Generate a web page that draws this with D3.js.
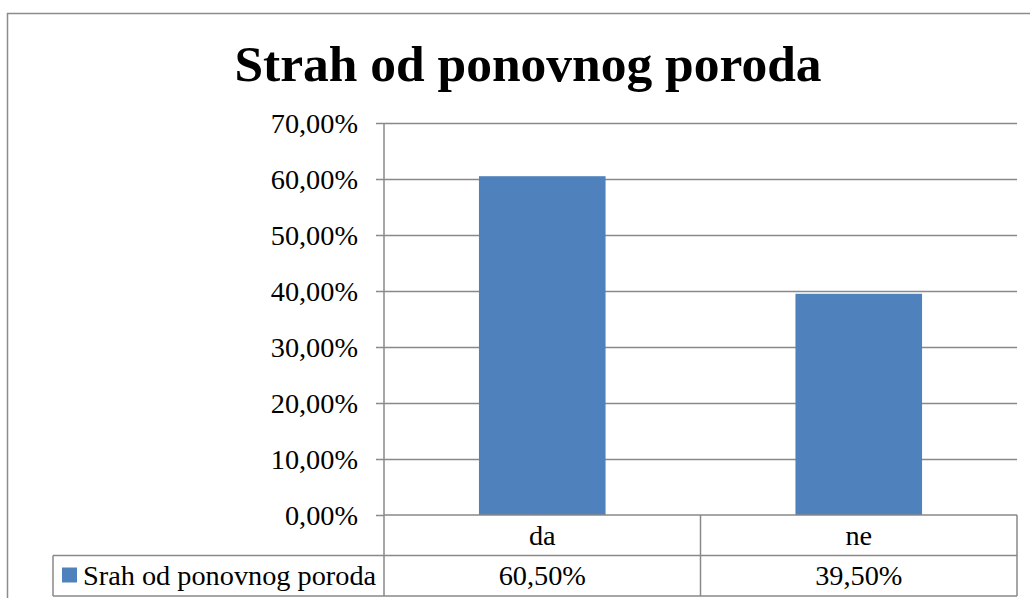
<!DOCTYPE html>
<html>
<head>
<meta charset="utf-8">
<script src="https://cdn.jsdelivr.net/npm/d3@7"></script>
<style>
  body { margin: 0; background: #fff; }
  text { font-family: "Liberation Serif", "DejaVu Serif", serif; fill: #000; }
</style>
</head>
<body>
<div id="chart"></div>
<script>
var title = "Strah od ponovnog poroda";
var seriesName = "Srah od ponovnog poroda";
var categories = ["da", "ne"];
var values = [0.605, 0.395];
var yTicks = [0, 0.1, 0.2, 0.3, 0.4, 0.5, 0.6, 0.7];

var W = 1030, H = 598;
var margin = {top: 123, left: 384, right: 13};
var plotH = 392;
var rowH = 40.5;
var legendLeft = 53;
var gridColor = "#898989";
var labelSize = "28.3px";

var fmt = function(v) { return d3.format(".2f")(v * 100).replace(".", ",") + "%"; };

var svg = d3.select("#chart").append("svg")
  .attr("width", W)
  .attr("height", H);

// outer chart border
svg.append("rect")
  .attr("x", 7.5).attr("y", 13.5)
  .attr("width", W + 20).attr("height", H + 20)
  .attr("fill", "none")
  .attr("stroke", "#8c8c8c")
  .attr("stroke-width", 1.5);

// title
svg.append("text")
  .attr("x", 528).attr("y", 81)
  .attr("text-anchor", "middle")
  .style("font-size", "51.5px")
  .style("font-weight", "bold")
  .text(title);

var width = W - margin.left - margin.right;

var x = d3.scaleBand().domain(categories).range([0, width]).paddingInner(0).paddingOuter(0);
var y = d3.scaleLinear().domain([0, 0.7]).range([plotH, 0]);

var g = svg.append("g")
  .attr("transform", "translate(" + margin.left + "," + margin.top + ")");

// gridlines
g.selectAll(".grid").data(yTicks.slice(1)).enter().append("line")
  .attr("x1", 0).attr("x2", width)
  .attr("y1", function(d) { return Math.round(y(d)) + 0.5; })
  .attr("y2", function(d) { return Math.round(y(d)) + 0.5; })
  .attr("stroke", gridColor).attr("stroke-width", 1.5);

// bars
var bw = x.bandwidth() * 0.4;
g.selectAll(".bar").data(values).enter().append("rect")
  .attr("x", function(d, i) { return x(categories[i]) + (x.bandwidth() - bw) / 2; })
  .attr("y", function(d) { return y(d); })
  .attr("width", bw)
  .attr("height", function(d) { return plotH - y(d); })
  .attr("fill", "#4f81bd");

// y axis
var yAxis = d3.axisLeft(y)
  .tickValues(yTicks)
  .tickSize(8)
  .tickPadding(18)
  .tickFormat(fmt);

var ax = g.append("g").call(yAxis);
ax.select(".domain").remove();
ax.selectAll(".tick line").attr("stroke", gridColor).attr("stroke-width", 1.5);
ax.selectAll(".tick text")
  .style("font-size", labelSize)
  .style("font-family", "'Liberation Serif', serif")
  .attr("fill", "#000");

// axis line running down through table
g.append("line")
  .attr("x1", 0).attr("x2", 0)
  .attr("y1", 0).attr("y2", plotH + 2 * rowH)
  .attr("stroke", gridColor).attr("stroke-width", 1.5);

// data table
var t = g.append("g").attr("class", "table");
var lineAttr = function(sel) { return sel.attr("stroke", gridColor).attr("stroke-width", 1.5).attr("fill", "none"); };

// horizontal lines
lineAttr(t.append("line").attr("x1", 0).attr("x2", width).attr("y1", plotH).attr("y2", plotH));
lineAttr(t.append("line").attr("x1", legendLeft - margin.left).attr("x2", width).attr("y1", plotH + rowH).attr("y2", plotH + rowH));
lineAttr(t.append("line").attr("x1", legendLeft - margin.left).attr("x2", width).attr("y1", plotH + 2 * rowH).attr("y2", plotH + 2 * rowH));
// legend cell left edge
lineAttr(t.append("line").attr("x1", legendLeft - margin.left).attr("x2", legendLeft - margin.left).attr("y1", plotH + rowH).attr("y2", plotH + 2 * rowH));
// column dividers
categories.forEach(function(c) {
  var xr = x(c) + x.bandwidth();
  lineAttr(t.append("line").attr("x1", xr).attr("x2", xr).attr("y1", plotH).attr("y2", plotH + 2 * rowH));
});

t.selectAll(".cat").data(categories).enter().append("text")
  .attr("x", function(d) { return x(d) + x.bandwidth() / 2; })
  .attr("y", plotH + 30)
  .attr("text-anchor", "middle")
  .style("font-size", labelSize)
  .text(function(d) { return d; });

t.selectAll(".val").data(values).enter().append("text")
  .attr("x", function(d, i) { return x(categories[i]) + x.bandwidth() / 2; })
  .attr("y", plotH + rowH + 29.5)
  .attr("text-anchor", "middle")
  .style("font-size", labelSize)
  .text(function(d) { return fmt(d); });

// legend key
t.append("rect")
  .attr("x", 62 - margin.left).attr("y", plotH + rowH + 12)
  .attr("width", 15).attr("height", 15)
  .attr("fill", "#4f81bd");
t.append("text")
  .attr("x", 83 - margin.left).attr("y", plotH + rowH + 29.5)
  .style("font-size", labelSize)
  .text(seriesName);
</script>
</body>
</html>
